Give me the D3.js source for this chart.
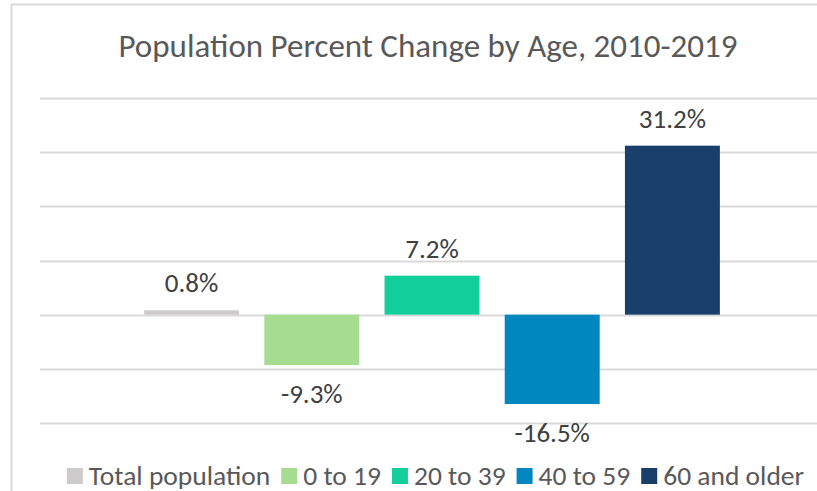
<!DOCTYPE html>
<html>
<head>
<meta charset="utf-8">
<script src="https://cdn.jsdelivr.net/npm/d3@7"></script>
<style>
  body { margin: 0; background: #fff; }
  text { font-family: Carlito, Calibri, Lato, sans-serif; }
</style>
</head>
<body>
<div class="chart"></div>
<script>
const groups = ["Total population", "0 to 19", "20 to 39", "40 to 59", "60 and older"];
const values = [0.8, -9.3, 7.2, -16.5, 31.2];
const colors = ["#cccacb", "#a6dc90", "#13cf9c", "#0087c0", "#193f6b"];
const gridTicks = [-20, -10, 0, 10, 20, 30, 40];

const width = 817;
const height = 491;

const svg = d3.select('.chart')
  .append('svg')
  .attr('width', width)
  .attr('height', height);

// chart frame, cut off at the right and bottom
svg.append("rect")
  .attr("x", 11.5)
  .attr("y", 4.5)
  .attr("width", 900)
  .attr("height", 600)
  .attr("fill", "none")
  .attr("stroke", "#d9d9d9")
  .attr("stroke-width", 2);

svg.append("text")
  .text("Population Percent Change by Age, 2010-2019")
  .attr("x", 428)
  .attr("y", 57)
  .attr("text-anchor", "middle")
  .attr("font-size", 33)
  .attr("fill", "#595959");

const y = d3.scaleLinear().domain([-20, 40]).range([423, 98]);
const x = d3.scaleBand()
  .domain(groups)
  .range([131.5, 732.5])
  .paddingInner(0.21)
  .paddingOuter(0.105);

svg.selectAll("line.grid")
  .data(gridTicks)
  .enter()
  .append("line")
  .attr("class", "grid")
  .attr("x1", 40)
  .attr("x2", 830)
  .attr("y1", d => Math.round(y(d)) + 0.5)
  .attr("y2", d => Math.round(y(d)) + 0.5)
  .attr("stroke", "#d9d9d9")
  .attr("stroke-width", 2);

svg.selectAll("rect.bar")
  .data(values)
  .enter()
  .append("rect")
  .attr("class", "bar")
  .attr("x", (d, i) => x(groups[i]))
  .attr("y", d => y(Math.max(0, d)))
  .attr("width", x.bandwidth())
  .attr("height", d => Math.abs(y(d) - y(0)))
  .attr("fill", (d, i) => colors[i]);

svg.selectAll("text.value")
  .data(values)
  .enter()
  .append("text")
  .attr("class", "value")
  .text(d => d.toFixed(1) + "%")
  .attr("x", (d, i) => x(groups[i]) + x.bandwidth() / 2)
  .attr("y", d => d >= 0 ? y(d) - 18 : y(d) + 38)
  .attr("text-anchor", "middle")
  .attr("font-size", 27)
  .attr("fill", "#404040");

// legend
const legend = svg.append("g");
let lx = 0;
groups.forEach((g, i) => {
  legend.append("rect")
    .attr("x", lx)
    .attr("y", 468)
    .attr("width", 16)
    .attr("height", 16)
    .attr("fill", colors[i]);
  const t = legend.append("text")
    .text(g)
    .attr("x", lx + 22)
    .attr("y", 485)
    .attr("font-size", 27.5)
    .attr("fill", "#595959");
  lx += 22 + t.node().getComputedTextLength() + 11;
});
const legendWidth = lx - 11;
legend.attr("transform", `translate(${435.5 - legendWidth / 2},0)`);
</script>
</body>
</html>
